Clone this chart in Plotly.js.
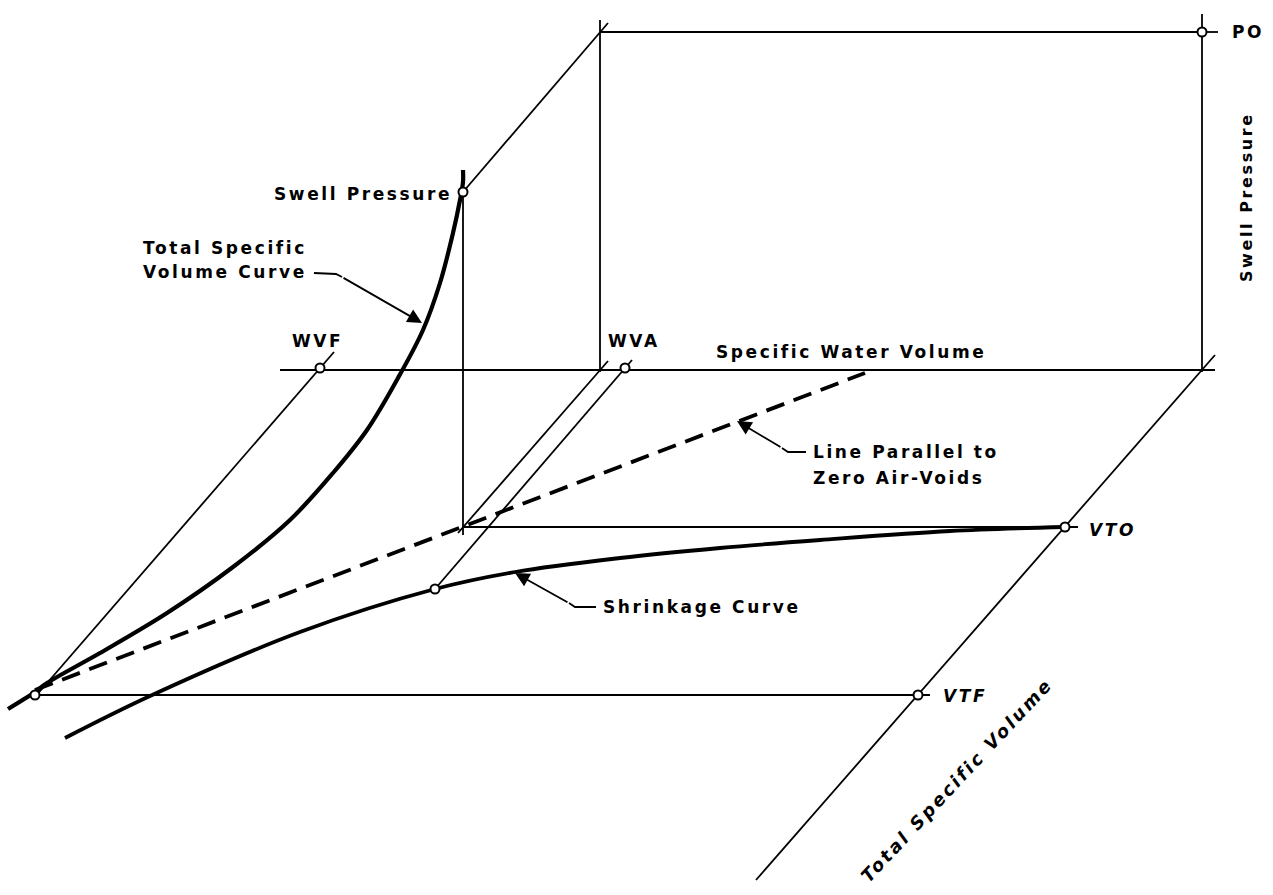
<!DOCTYPE html>
<html>
<head>
<meta charset="utf-8">
<script src="https://cdn.plot.ly/plotly-3.0.1.min.js"></script>
<style>
  html, body { margin: 0; padding: 0; background: #fff; }
  #chart { width: 1273px; height: 895px; }
  .annotation-text { letter-spacing: 2.6px; }
</style>
</head>
<body>
<div id="chart"></div>
<script>
// ---------- drawing data (diagram coordinates: x right, y down) ----------
// Total specific volume curve
const tsvX = [8, 35, 47, 100, 167, 233, 290, 333, 367, 398, 423, 440, 453, 460, 463, 463];
const tsvY = [709, 692, 683, 653, 613, 567, 520, 473, 430, 378, 330, 283, 233, 200, 182, 170];
// Shrinkage curve
const shrX = [65, 150, 300, 435, 515, 620, 720, 820, 950, 1065];
const shrY = [738, 696, 632, 589, 572, 558, 548, 540, 531, 527];
// Line parallel to zero air-voids
const zavX = [35, 865];
const zavY = [690, 373];
// Guide / construction lines: [x0, y0, x1, y1]
const guideX0 = [600, 600, 1202, 463, 280, 1215, 334, 608, 632, 463, 463, 35, 1202];
const guideY0 = [32, 20, 14, 192, 370, 355, 352, 361, 360, 192, 527, 695, 32];
const guideX1 = [1202, 600, 1202, 608, 1215, 756, 35, 458, 435, 463, 1078, 930, 1218];
const guideY1 = [32, 372, 372, 23, 370, 880, 697, 533, 589, 535, 527, 695, 32];
// Marked points (open circles)
const ptName = ["PO", "Swell Pressure", "WVF", "WVA", "VTO", "VTF", "SC", "O"];
const ptX = [1202, 463, 320, 625, 1065, 918, 435, 35];
const ptY = [32, 192, 368, 368, 527, 695, 589, 695];

// ---------- traces ----------
const traces = [];
for (let i = 0; i < guideX0.length; i++) {
  traces.push({
    type: 'scatter', mode: 'lines',
    x: [guideX0[i], guideX1[i]], y: [guideY0[i], guideY1[i]],
    line: {color: '#000', width: 1.8}, hoverinfo: 'skip'
  });
}
traces.push({type: 'scatter', mode: 'lines', x: zavX, y: zavY,
  line: {color: '#000', width: 3.8, dash: '19px,10px'}, hoverinfo: 'skip'});
traces.push({type: 'scatter', mode: 'lines', x: tsvX, y: tsvY,
  line: {color: '#000', width: 4.2, shape: 'spline', smoothing: 1}, hoverinfo: 'skip'});
traces.push({type: 'scatter', mode: 'lines', x: shrX, y: shrY,
  line: {color: '#000', width: 3.8, shape: 'spline', smoothing: 1}, hoverinfo: 'skip'});
// leader lines
traces.push({type: 'scatter', mode: 'lines', x: [314, 336, 342], y: [273, 274, 277],
  line: {color: '#000', width: 1.8}, hoverinfo: 'skip'});
traces.push({type: 'scatter', mode: 'lines', x: [806, 788, 782], y: [452, 452, 448],
  line: {color: '#000', width: 1.8}, hoverinfo: 'skip'});
traces.push({type: 'scatter', mode: 'lines', x: [596, 575, 569], y: [607, 607, 603],
  line: {color: '#000', width: 1.8}, hoverinfo: 'skip'});
// points
traces.push({type: 'scatter', mode: 'markers', x: ptX, y: ptY, text: ptName,
  marker: {symbol: 'circle', size: 9, color: '#fff', line: {color: '#000', width: 2}},
  hoverinfo: 'skip'});

const F = 'DejaVu Sans, sans-serif';
const base = {xref: 'x', yref: 'y', showarrow: false, font: {family: F, size: 17, color: '#000', weight: 'bold'}};
const ital = {family: F, size: 17, color: '#000', weight: 'bold', style: 'italic'};
const annotations = [
  Object.assign({}, base, {x: 1230, y: 32, text: 'PO', xanchor: 'left', yanchor: 'middle'}),
  Object.assign({}, base, {x: 1246, y: 197, text: 'Swell Pressure', textangle: -90, xanchor: 'center', yanchor: 'middle', font: {family: F, size: 16, color: '#000', weight: 'bold'}}),
  Object.assign({}, base, {x: 454, y: 194, text: 'Swell Pressure', xanchor: 'right', yanchor: 'middle'}),
  Object.assign({}, base, {x: 309, y: 248, text: 'Total Specific', xanchor: 'right', yanchor: 'middle'}),
  Object.assign({}, base, {x: 309, y: 272, text: 'Volume Curve', xanchor: 'right', yanchor: 'middle'}),
  Object.assign({}, base, {x: 317, y: 341, text: 'WVF', xanchor: 'center', yanchor: 'middle'}),
  Object.assign({}, base, {x: 606, y: 341, text: 'WVA', xanchor: 'left', yanchor: 'middle'}),
  Object.assign({}, base, {x: 714, y: 352, text: 'Specific Water Volume', xanchor: 'left', yanchor: 'middle'}),
  Object.assign({}, base, {x: 811, y: 452, text: 'Line Parallel to', xanchor: 'left', yanchor: 'middle'}),
  Object.assign({}, base, {x: 811, y: 478, text: 'Zero Air-Voids', xanchor: 'left', yanchor: 'middle'}),
  Object.assign({}, base, {x: 601, y: 607, text: 'Shrinkage Curve', xanchor: 'left', yanchor: 'middle'}),
  {xref: 'x', yref: 'y', showarrow: false, x: 1087, y: 530, text: 'VTO', xanchor: 'left', yanchor: 'middle', font: ital},
  {xref: 'x', yref: 'y', showarrow: false, x: 941, y: 696, text: 'VTF', xanchor: 'left', yanchor: 'middle', font: ital},
  {xref: 'x', yref: 'y', showarrow: false, x: 956, y: 780, text: 'Total Specific Volume', textangle: -47, xanchor: 'center', yanchor: 'middle', font: {family: F, size: 18, color: '#000', weight: 'bold', style: 'italic'}},
  // arrows
  {xref: 'x', yref: 'y', axref: 'x', ayref: 'y', x: 422, y: 323, ax: 342, ay: 277, text: '', showarrow: true, arrowhead: 2, arrowsize: 1.6, arrowwidth: 1.8, arrowcolor: '#000', standoff: 0},
  {xref: 'x', yref: 'y', axref: 'x', ayref: 'y', x: 737, y: 421, ax: 782, ay: 448, text: '', showarrow: true, arrowhead: 2, arrowsize: 1.6, arrowwidth: 1.8, arrowcolor: '#000', standoff: 0},
  {xref: 'x', yref: 'y', axref: 'x', ayref: 'y', x: 515, y: 573, ax: 569, ay: 603, text: '', showarrow: true, arrowhead: 2, arrowsize: 1.6, arrowwidth: 1.8, arrowcolor: '#000', standoff: 0}
];

const layout = {
  width: 1273, height: 895,
  margin: {l: 0, r: 0, t: 0, b: 0},
  paper_bgcolor: '#fff', plot_bgcolor: '#fff',
  showlegend: false,
  xaxis: {range: [0, 1273], visible: false, fixedrange: true},
  yaxis: {range: [895, 0], visible: false, fixedrange: true},
  annotations: annotations
};
Plotly.newPlot('chart', traces, layout, {staticPlot: true, displayModeBar: false});
</script>
</body>
</html>
